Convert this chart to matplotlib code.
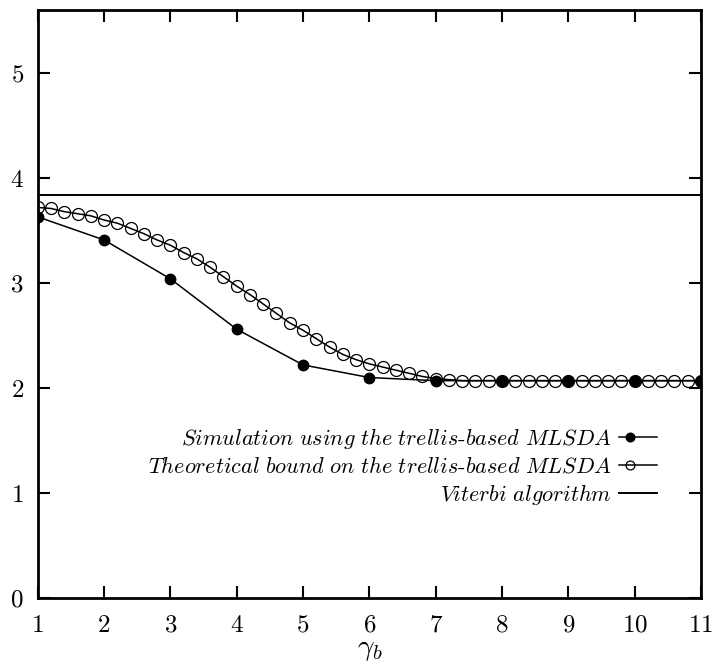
import matplotlib
matplotlib.use("Agg")
import matplotlib.pyplot as plt
from matplotlib.legend_handler import HandlerLine2DCompound

plt.rcParams['font.family'] = 'serif'
plt.rcParams['font.serif'] = ['cmr10']
plt.rcParams['mathtext.fontset'] = 'cm'
plt.rcParams['axes.formatter.use_mathtext'] = True

# simulation, integer gamma_b
sim_x = [1, 2, 3, 4, 5, 6, 7, 8, 9, 10, 11]
sim_y = [3.63, 3.41, 3.04, 2.56, 2.22, 2.10, 2.07, 2.07, 2.07, 2.07, 2.07]

# theoretical bound, step 0.2
bound_x = [1.0, 1.2, 1.4, 1.6, 1.8, 2.0, 2.2, 2.4, 2.6, 2.8,
           3.0, 3.2, 3.4, 3.6, 3.8, 4.0, 4.2, 4.4, 4.6, 4.8,
           5.0, 5.2, 5.4, 5.6, 5.8, 6.0, 6.2, 6.4, 6.6, 6.8,
           7.0, 7.2, 7.4, 7.6, 7.8, 8.0, 8.2, 8.4, 8.6, 8.8,
           9.0, 9.2, 9.4, 9.6, 9.8, 10.0, 10.2, 10.4, 10.6, 10.8, 11.0]
bound_y = [3.72, 3.71, 3.68, 3.66, 3.64, 3.60, 3.57, 3.52, 3.47, 3.41,
           3.36, 3.29, 3.23, 3.15, 3.06, 2.97, 2.89, 2.80, 2.71, 2.62,
           2.55, 2.47, 2.39, 2.32, 2.27, 2.23, 2.20, 2.17, 2.14, 2.11,
           2.09, 2.08, 2.07, 2.07, 2.07, 2.07, 2.07, 2.07, 2.07, 2.07,
           2.07, 2.07, 2.07, 2.07, 2.07, 2.07, 2.07, 2.07, 2.07, 2.07, 2.07]

viterbi = 3.84

labels = [r'$\mathit{Simulation\ using\ the\ trellis}$-$\mathit{based\ MLSDA}$',
          r'$\mathit{Theoretical\ bound\ on\ the\ trellis}$-$\mathit{based\ MLSDA}$',
          r'$\mathit{Viterbi\ algorithm}$']


class LeftMarker(HandlerLine2DCompound):
    # gnuplot style key sample: marker sits near the left end of the line
    def __init__(self, ms, **kw):
        super().__init__(**kw)
        self.ms = ms

    def get_xdata(self, legend, xdescent, ydescent, width, height, fontsize):
        return [-xdescent, -xdescent + width], [-xdescent + 0.27 * width]

    def create_artists(self, *args, **kw):
        arts = super().create_artists(*args, **kw)
        arts[1].set_markersize(self.ms)
        return arts


fig = plt.figure(figsize=(7.12, 6.67), dpi=100)
ax = fig.add_axes([0.053, 0.1034, 0.9315, 0.8816])

l1, = ax.plot(sim_x, sim_y, color='black', lw=1.1, marker='o', ms=7.5,
              mfc='black', mec='black', label=labels[0])
l2, = ax.plot(bound_x, bound_y, color='black', lw=1.1, marker='o', ms=8.6,
              mfc='none', mec='black', mew=0.9, label=labels[1])
l3 = ax.axhline(viterbi, color='black', lw=1.4, label=labels[2])

ax.set_xlim(1, 11)
ax.set_ylim(0, 5.6)
ax.set_xticks(range(1, 12))
ax.set_yticks(range(0, 6))
ax.tick_params(direction='in', length=8.5, width=1.5, top=True, right=True,
               labelsize=18)
ax.tick_params(axis='x', pad=12)
ax.tick_params(axis='y', pad=10)
for s in ax.spines.values():
    s.set_linewidth(2.0)
ax.set_xlabel(r'$\gamma_b$', fontsize=21, labelpad=0)

leg = ax.legend(handles=[l1, l2, l3], loc='lower right',
                bbox_to_anchor=(0.934, 0.155), frameon=False,
                markerfirst=False, handlelength=1.7, handletextpad=0.35,
                borderpad=0, borderaxespad=0, labelspacing=0.22,
                prop={'size': 16},
                handler_map={l1: LeftMarker(6.2), l2: LeftMarker(6.4)})
for t in leg.get_texts():
    t.set_ha('right')
leg._legend_box.align = 'right'

fig.savefig('out.png', dpi=100)
